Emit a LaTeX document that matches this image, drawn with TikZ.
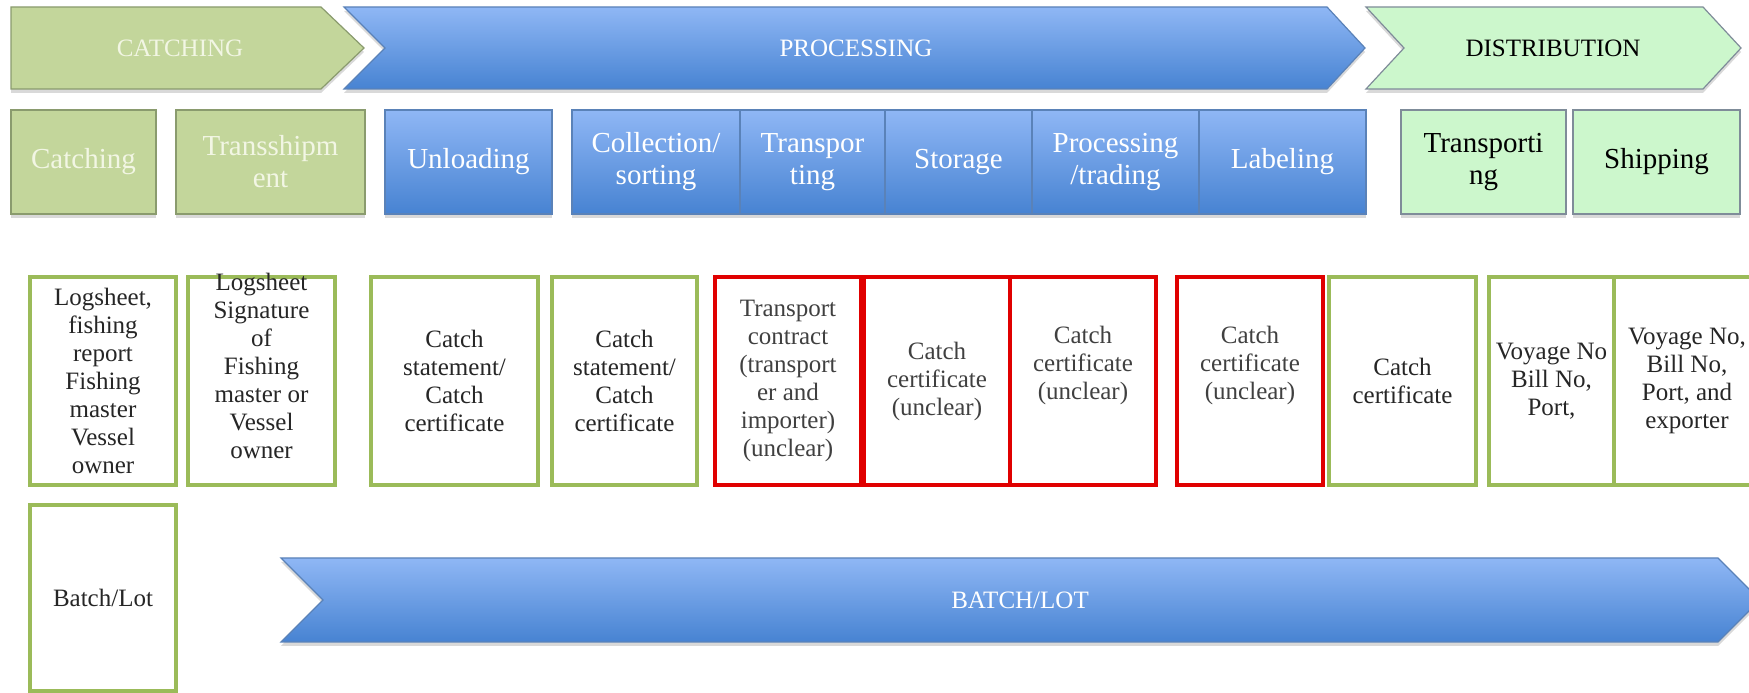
\documentclass[tikz,border=0pt]{standalone}
\usepackage{fontspec}
\setmainfont{Liberation Serif}
\usetikzlibrary{shadows}

\definecolor{leafgreen}{HTML}{C3D69B}
\definecolor{leafedge}{HTML}{8A9B6E}
\definecolor{leaftext}{HTML}{F2F6E4}
\definecolor{mintgreen}{HTML}{CCF7CC}
\definecolor{mintedge}{HTML}{7F8C99}
\definecolor{skytop}{HTML}{8FB7F5}
\definecolor{skybottom}{HTML}{4783D2}
\definecolor{skyedge}{HTML}{5A82B8}
\definecolor{docgreen}{HTML}{9BBB59}
\definecolor{docred}{HTML}{E00000}

\tikzset{
  softshadow/.style={drop shadow={opacity=.3,shadow xshift=0pt,shadow yshift=-4pt}},
  stagebar/.style={softshadow, line width=1.2pt},
  greenbar/.style={stagebar, fill=leafgreen, draw=leafedge},
  bluebar/.style={stagebar, top color=skytop, bottom color=skybottom, draw=skyedge},
  mintbar/.style={stagebar, fill=mintgreen, draw=mintedge},
  stagetext/.style={font=\fontsize{25}{28}\selectfont, inner sep=0pt},
  phasebox/.style={rectangle, inner sep=0pt, minimum height=104pt, align=center,
    line width=1.2pt, softshadow, font=\fontsize{29}{32}\selectfont},
  phasegreen/.style={phasebox, fill=leafgreen, draw=leafedge, text=leaftext},
  phaseblue/.style={phasebox, top color=skytop, bottom color=skybottom, draw=skyedge, text=white},
  phasemint/.style={phasebox, fill=mintgreen, draw=mintedge, text=black},
  docbox/.style={rectangle, inner sep=0pt, minimum height=208pt, minimum width=146pt,
    align=center, line width=3.5pt, fill=white, font=\fontsize{25}{28}\selectfont, text=black!85},
  docok/.style={docbox, draw=docgreen},
  docweak/.style={docbox, draw=docred, text=black!75},
  doctext/.style={align=center, inner sep=0pt, font=\fontsize{25}{28}\selectfont, text=black!75}
}

\begin{document}
\begin{tikzpicture}[x=1pt,y=1pt]
  \useasboundingbox (0,0) rectangle (1749,693);

  % Stage arrows
  \draw[greenbar] (11,686) -- (321,686) -- (364,645) -- (321,604) -- (11,604) -- cycle;
  \draw[bluebar] (344,686) -- (1327,686) -- (1365,645) -- (1327,604) -- (344,604) -- (385,645) -- cycle;
  \draw[mintbar] (1366,686) -- (1703,686) -- (1741,645) -- (1703,604) -- (1366,604) -- (1404,645) -- cycle;
  \node[stagetext, text=leaftext] (catchstage) at (180,645) {CATCHING};
  \node[stagetext, text=white] (procstage) at (856,645) {PROCESSING};
  \node[stagetext, text=black] (diststage) at (1553,645) {DISTRIBUTION};

  % Steps
  \node[phasegreen, minimum width=145pt] (catching) at (83.5,531) {Catching};
  \node[phasegreen, minimum width=189pt] (transship) at (270.5,531) {Transshipm\\ent};
  \node[phaseblue, minimum width=167pt] (unloading) at (468.5,531) {Unloading};
  \node[phaseblue, minimum width=168pt] (collection) at (656,531) {Collection/\\sorting};
  \node[phaseblue, minimum width=145pt] (transport) at (812.5,531) {Transpor\\ting};
  \node[phaseblue, minimum width=147pt] (storage) at (958.5,531) {Storage};
  \node[phaseblue, minimum width=167pt] (proctrade) at (1115.5,531) {Processing\\/trading};
  \node[phaseblue, minimum width=167pt] (labeling) at (1282.5,531) {Labeling};
  \node[phasemint, minimum width=165pt] (distransport) at (1483.5,531) {Transporti\\ng};
  \node[phasemint, minimum width=167pt] (shipping) at (1656.5,531) {Shipping};

  % Records kept at each step
  \node[docok] (logsheet) at (103,312) {Logsheet,\\fishing\\report\\Fishing\\master\\Vessel\\owner};
  \node[docok, minimum width=147pt] (signature) at (261.5,312) {};
  \node[doctext, text=black!85] (signaturetext) at (261.5,327) {Logsheet\\Signature\\of\\Fishing\\master or\\Vessel\\owner};
  \node[docok, minimum width=167pt] (statementa) at (454.5,312) {Catch\\statement/\\Catch\\certificate};
  \node[docok, minimum width=145pt] (statementb) at (624.5,312) {Catch\\statement/\\Catch\\certificate};
  \node[docweak] (contract) at (788,312) {Transport\\contract\\(transport\\er and\\importer)\\(unclear)};
  \node[docweak] (certa) at (937,312) {Catch\\certificate\\(unclear)};
  \node[docweak] (certb) at (1083,312) {};
  \node[doctext] (certbtext) at (1083,328) {Catch\\certificate\\(unclear)};
  \node[docweak] (certc) at (1250,312) {};
  \node[doctext] (certctext) at (1250,328) {Catch\\certificate\\(unclear)};
  \node[docok, minimum width=147pt] (certd) at (1402.5,312) {Catch\\certificate};
  \node[docok, minimum width=125pt] (voyagea) at (1551.5,312) {Voyage No\\Bill No,\\Port,};
  \node[docok] (voyageb) at (1687,312) {Voyage No,\\Bill No,\\Port, and\\exporter};

  % Batch
  \node[docok, minimum height=186pt] (batch) at (103,95) {Batch/Lot};
  \draw[bluebar] (281,135) -- (1718,135) -- (1760,93) -- (1718,51) -- (281,51) -- (323,93) -- cycle;
  \node[stagetext, text=white] (batchstage) at (1020,93) {BATCH/LOT};

\end{tikzpicture}
\end{document}
